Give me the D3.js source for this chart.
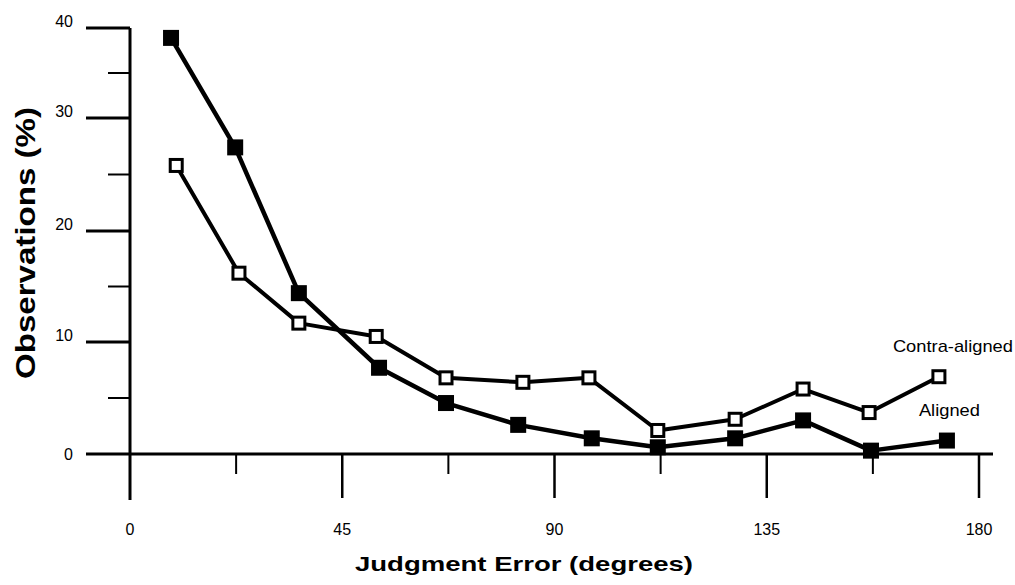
<!DOCTYPE html>
<html>
<head>
<meta charset="utf-8">
<script src="https://cdn.jsdelivr.net/npm/d3@7/dist/d3.min.js"></script>
<style>
  html, body { margin: 0; padding: 0; background: #fff; }
  svg { display: block; }
  text { font-family: "Liberation Sans", Arial, Helvetica, sans-serif; fill: #000; }
</style>
</head>
<body>
<svg id="chart" width="1015" height="585"></svg>
<script>
// ---- Data ----
const seriesNames = ["Aligned", "Contra-aligned"];
// judgment error (degrees) at which each point is plotted
const alignedX = [8.7, 22.3, 35.8, 52.8, 67.0, 82.3, 97.9, 111.9, 128.3, 142.7, 157.1, 173.2];
const contraX  = [9.8, 23.1, 35.8, 52.2, 67.0, 83.3, 97.3, 111.9, 128.3, 142.7, 156.7, 171.5];
// observations (%)
const alignedY = [38.9, 27.4, 14.4, 7.7, 4.55, 2.6, 1.4, 0.6, 1.4, 3.0, 0.3, 1.2];
const contraY  = [25.8, 16.2, 11.7, 10.5, 6.8, 6.4, 6.8, 2.1, 3.1, 5.8, 3.7, 6.9];
// ticks
const xMajorTicks = [0, 45, 90, 135, 180];
const xMinorTicks = [22.5, 67.5, 112.5, 157.5];
const yMajorTicks = [0, 10, 20, 30, 40];
const yMinorTicks = [5, 15, 25, 35];
const xTitle = "Judgment Error (degrees)";
const yTitle = "Observations (%)";

const svg = d3.select("#chart");

// hand-drawn axis: slightly uneven spacing, reproduced with a piecewise scale
const x = d3.scaleLinear().domain([0, 180]).range([130, 979]);
const y = d3.scaleLinear().domain([0, 10, 20, 30, 40]).range([454, 342, 231, 118, 28]);

const aligned = alignedX.map((v, i) => ({x: v, y: alignedY[i]}));
const contra = contraX.map((v, i) => ({x: v, y: contraY[i]}));

// ---- Axes ----
const ax = svg.append("g").attr("stroke", "#000").attr("fill", "none");
ax.append("line")
  .attr("x1", x(0) - 44).attr("x2", x(180) + 14)
  .attr("y1", y(0)).attr("y2", y(0))
  .attr("stroke-width", 3);
ax.append("line")
  .attr("x1", x(0)).attr("x2", x(0))
  .attr("y1", y(40)).attr("y2", y(0) + 46)
  .attr("stroke-width", 3);

ax.selectAll(".ymaj").data(yMajorTicks.filter(d => d !== 0)).join("line")
  .attr("x1", x(0) - 44).attr("x2", x(0))
  .attr("y1", d => y(d)).attr("y2", d => y(d))
  .attr("stroke-width", 3);
ax.selectAll(".ymin").data(yMinorTicks).join("line")
  .attr("x1", x(0) - 22).attr("x2", x(0))
  .attr("y1", d => y(d)).attr("y2", d => y(d))
  .attr("stroke-width", 2);
ax.selectAll(".xmaj").data(xMajorTicks.filter(d => d !== 0)).join("line")
  .attr("x1", d => x(d)).attr("x2", d => x(d))
  .attr("y1", y(0)).attr("y2", y(0) + 44)
  .attr("stroke-width", 2.5);
ax.selectAll(".xmin").data(xMinorTicks).join("line")
  .attr("x1", d => x(d)).attr("x2", d => x(d))
  .attr("y1", y(0)).attr("y2", y(0) + 20)
  .attr("stroke-width", 2);

// tick labels
svg.append("g").selectAll("text").data(yMajorTicks).join("text")
  .attr("x", 73)
  .attr("y", d => y(d) + (d === 0 ? 0 : -7))
  .attr("dy", "0.35em")
  .attr("text-anchor", "end")
  .attr("font-size", 16)
  .text(d => d);

svg.append("g").selectAll("text").data(xMajorTicks).join("text")
  .attr("x", d => x(d))
  .attr("y", y(0) + 75)
  .attr("dy", "0.35em")
  .attr("text-anchor", "middle")
  .attr("font-size", 16)
  .text(d => d);

// axis titles
svg.append("text")
  .attr("x", 524).attr("y", 571)
  .attr("text-anchor", "middle")
  .attr("font-size", 21).attr("font-weight", "bold")
  .attr("textLength", 338).attr("lengthAdjust", "spacingAndGlyphs")
  .text(xTitle);

svg.append("text")
  .attr("transform", "translate(35,243) rotate(-90)")
  .attr("text-anchor", "middle")
  .attr("font-size", 27).attr("font-weight", "bold")
  .attr("textLength", 272).attr("lengthAdjust", "spacingAndGlyphs")
  .text(yTitle);

// ---- Series ----
const line = d3.line().x(d => x(d.x)).y(d => y(d.y));

svg.append("path").datum(contra)
  .attr("d", line).attr("fill", "none")
  .attr("stroke", "#000").attr("stroke-width", 4).attr("stroke-linejoin", "round");
svg.append("path").datum(aligned)
  .attr("d", line).attr("fill", "none")
  .attr("stroke", "#000").attr("stroke-width", 4.5).attr("stroke-linejoin", "round");

const os = 12;
svg.append("g").selectAll("rect").data(contra).join("rect")
  .attr("x", d => x(d.x) - os / 2).attr("y", d => y(d.y) - os / 2)
  .attr("width", os).attr("height", os)
  .attr("fill", "#fff").attr("stroke", "#000").attr("stroke-width", 3);

const fs = 16;
svg.append("g").selectAll("rect").data(aligned).join("rect")
  .attr("x", d => x(d.x) - fs / 2).attr("y", d => y(d.y) - fs / 2)
  .attr("width", fs).attr("height", fs)
  .attr("fill", "#000");

// series labels
const lastC = contra[contra.length - 1];
const lastA = aligned[aligned.length - 1];
svg.append("text")
  .attr("x", x(lastC.x) - 46).attr("y", y(lastC.y) - 25)
  .attr("font-size", 17)
  .attr("textLength", 120).attr("lengthAdjust", "spacingAndGlyphs")
  .text(seriesNames[1]);
svg.append("text")
  .attr("x", x(lastA.x) - 28).attr("y", y(lastA.y) - 25)
  .attr("font-size", 17)
  .attr("textLength", 61).attr("lengthAdjust", "spacingAndGlyphs")
  .text(seriesNames[0]);
</script>
</body>
</html>
